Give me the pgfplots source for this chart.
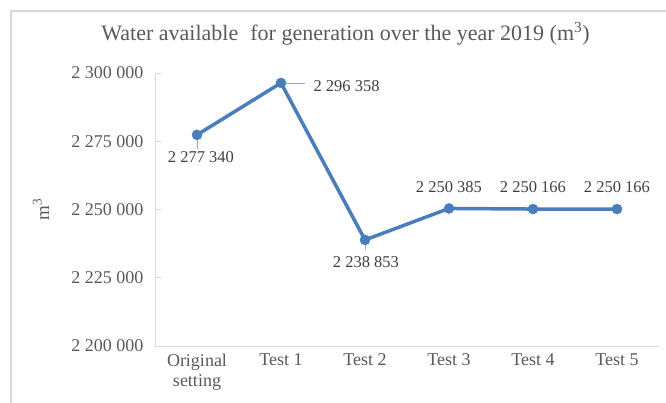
\documentclass[border=0pt]{standalone}
\usepackage{pgfplots}
\pgfplotsset{compat=1.18}
\usepackage{fontspec}
\setmainfont{Liberation Serif}

\definecolor{lineblue}{RGB}{74,126,187}
\definecolor{txt}{RGB}{89,89,89}
\definecolor{lbl}{RGB}{64,64,64}
\definecolor{axgray}{RGB}{217,217,217}
\definecolor{leader}{RGB}{166,166,166}

\begin{document}
\begin{tikzpicture}
% page = 666 x 403 bp, axis origin at pixel (155,346)
\useasboundingbox (-155bp,-57bp) rectangle (511bp,346bp);
\draw[axgray, line width=1.2bp] (-144bp,-90bp) rectangle (540bp,335bp);
\begin{axis}[
  width=504bp, height=273bp, scale only axis,
  xmin=-0.5, xmax=5.5, ymin=2200000, ymax=2300000,
  axis lines*=left,
  axis line style={axgray, line width=0.8bp},
  xtick={0,...,5},
  xticklabels={{Original\\setting}, Test 1, Test 2, Test 3, Test 4, Test 5},
  x tick label style={align=center, text=txt, font=\fontsize{18bp}{20.5bp}\selectfont, yshift=-4bp},
  major x tick style={draw=none},
  ytick={2200000,2225000,2250000,2275000,2300000},
  y tick style={axgray, line width=0.8bp},
  tick align=inside, major tick length=6bp,
  scaled y ticks=false,
  y tick label style={text=txt, font=\fontsize{18bp}{20bp}\selectfont, xshift=-8bp,
    /pgf/number format/.cd, fixed, precision=0, 1000 sep={\ }, assume math mode=true},
  ylabel={m\textsuperscript{3}},
  ylabel style={at={(axis description cs:-0.226,0.5)}, anchor=center, text=txt,
    font=\fontsize{19bp}{21bp}\selectfont},
  title={Water available\hspace{0.3em} for generation over the year 2019 (m\textsuperscript{3})},
  title style={at={(axis description cs:0.378,1.121)}, anchor=center, text=txt,
    font=\fontsize{22bp}{24bp}\selectfont},
  clip=false,
]
% leader lines of the data labels
\addplot[forget plot, draw=none, mark=none,
  error bars/.cd, y dir=minus, y explicit, error mark=none,
  error bar style={draw=leader, line width=0.7bp}]
  coordinates {(0,2277340) -= (0,5100) (2,2238853) -= (0,3700)};
\addplot[forget plot, draw=none, mark=none,
  error bars/.cd, x dir=plus, x explicit, error mark=none,
  error bar style={draw=leader, line width=0.7bp}]
  coordinates {(1,2296358) += (0.29,0)};

\addplot[lineblue, line width=3.5bp, mark=*, mark size=5bp,
  mark options={fill=lineblue, draw=lineblue, line width=0.5bp}]
  coordinates {(0,2277340) (1,2296358) (2,2238853) (3,2250385) (4,2250166) (5,2250166)};

% data labels
\addplot[draw=none, mark=none, nodes near coords, point meta=explicit symbolic,
  nodes near coords style={anchor=center, xshift=4bp, yshift=-22.5bp, text=lbl,
    font=\fontsize{16.5bp}{18bp}\selectfont}]
  coordinates {(0,2277340) [2 277 340]};
\addplot[draw=none, mark=none, nodes near coords, point meta=explicit symbolic,
  nodes near coords style={anchor=center, xshift=1bp, yshift=-22bp, text=lbl,
    font=\fontsize{16.5bp}{18bp}\selectfont}]
  coordinates {(2,2238853) [2 238 853]};
\addplot[draw=none, mark=none, nodes near coords, point meta=explicit symbolic,
  nodes near coords style={anchor=west, xshift=29bp, yshift=-3bp, text=lbl,
    font=\fontsize{16.5bp}{18bp}\selectfont}]
  coordinates {(1,2296358) [2 296 358]};
\addplot[draw=none, mark=none, nodes near coords, point meta=explicit symbolic,
  nodes near coords style={anchor=center, yshift=21.5bp, text=lbl,
    font=\fontsize{16.5bp}{18bp}\selectfont}]
  coordinates {(3,2250385) [2 250 385] (4,2250166) [2 250 166] (5,2250166) [2 250 166]};
\end{axis}
\end{tikzpicture}
\end{document}
